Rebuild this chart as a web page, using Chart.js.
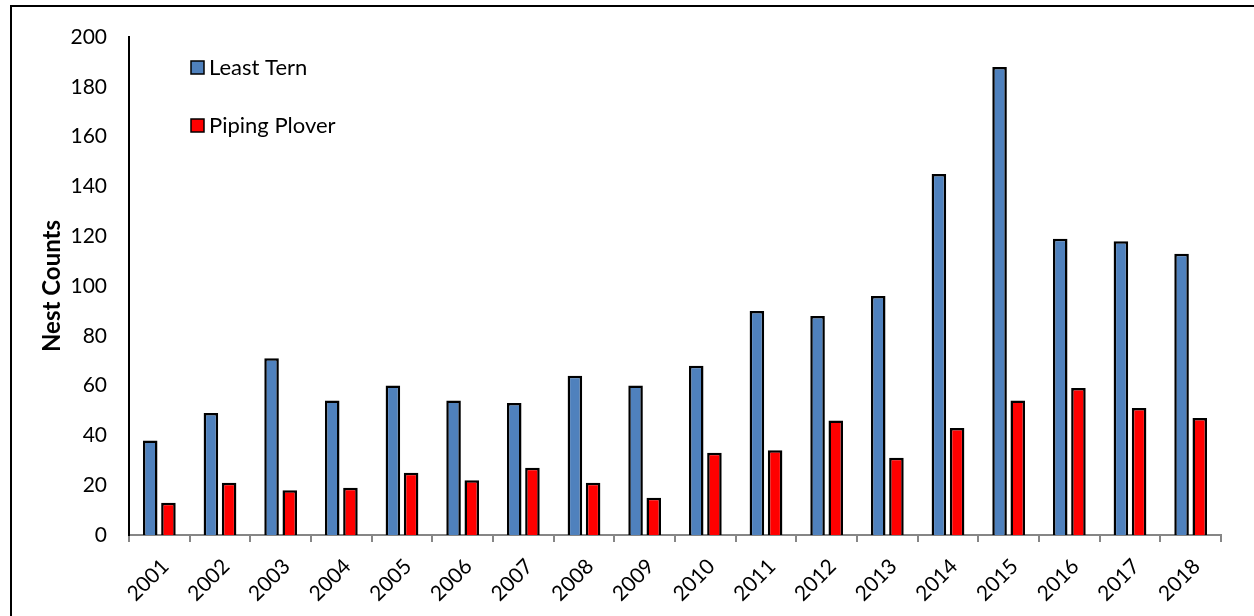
<!DOCTYPE html>
<html>
<head>
<meta charset="utf-8">
<script src="https://cdn.jsdelivr.net/npm/chart.js@4"></script>
<style>
html,body{margin:0;padding:0;background:#fff;}
#wrap{position:absolute;left:0;top:0;width:1254px;height:616px;}
#frame{position:absolute;left:10px;top:5px;width:1260px;height:640px;border-left:2px solid #000;border-top:2px solid #000;pointer-events:none;}
</style>
</head>
<body>
<div id="wrap"><canvas id="c" width="1254" height="616"></canvas></div>
<div id="frame"></div>
<script>
const years = ['2001','2002','2003','2004','2005','2006','2007','2008','2009','2010','2011','2012','2013','2014','2015','2016','2017','2018'];
const leastTern = [38,49,71,54,60,54,53,64,60,68,90,88,96,145,188,119,118,113];
const pipingPlover = [13,21,18,19,25,22,27,21,15,33,34,46,31,43,54,59,51,47];
const yTicks = [0,20,40,60,80,100,120,140,160,180,200];
const seriesNames = ['Least Tern','Piping Plover'];
const seriesColors = ['#4F81BD','#FF0000'];

const FONT = 'Lato, "Open Sans", sans-serif';

const insideLegend = {
  id:'insideLegend',
  afterDraw(chart){
    const ctx = chart.ctx, a = chart.chartArea;
    ctx.save();
    ctx.font = '22px ' + FONT;
    ctx.textBaseline = 'middle';
    chart.data.datasets.forEach((ds,i)=>{
      const x = a.left + 62, y = a.top + 30 + i*58;
      ctx.fillStyle = ds.backgroundColor;
      ctx.fillRect(x, y-6, 13, 13);
      ctx.lineWidth = 1.5;
      ctx.strokeStyle = '#000';
      ctx.strokeRect(x, y-6, 13, 13);
      ctx.fillStyle = '#000';
      ctx.fillText(ds.label, x+18, y+1);
    });
    ctx.restore();
  }
};

new Chart(document.getElementById('c'), {
  type:'bar',
  data:{
    labels: years,
    datasets:[
      {label:seriesNames[0], data:leastTern, backgroundColor:seriesColors[0], borderColor:'#000', borderWidth:2.5, borderSkipped:'bottom'},
      {label:seriesNames[1], data:pipingPlover, backgroundColor:seriesColors[1], borderColor:'#000', borderWidth:2.5, borderSkipped:'bottom'}
    ]
  },
  options:{
    responsive:false,
    animation:false,
    devicePixelRatio:1,
    layout:{padding:{left:38,right:33,top:37,bottom:0}},
    datasets:{bar:{categoryPercentage:0.6, barPercentage:0.8}},
    plugins:{legend:{display:false}, tooltip:{enabled:false}},
    scales:{
      x:{
        offset:true,
        grid:{offset:true, drawOnChartArea:false, drawTicks:true, tickLength:7, color:'#868686', lineWidth:2},
        border:{display:true, color:'#868686', width:2},
        ticks:{color:'#000', font:{family:FONT, size:21}, maxRotation:45, minRotation:45, padding:12, labelOffset:6, autoSkip:false},
        afterFit(s){ s.height = 81; }
      },
      y:{
        min:0, max:200,
        afterBuildTicks(s){ s.ticks = yTicks.map(v=>({value:v})); },
        grid:{display:false, drawTicks:false},
        border:{display:true, color:'#000', width:2},
        ticks:{color:'#000', font:{family:FONT, size:21}, padding:22},
        title:{display:true, text:'Nest Counts', color:'#000', font:{family:FONT, size:24, weight:'bold'}, padding:{top:0,bottom:4}},
        afterFit(s){ s.width = 91; }
      }
    }
  },
  plugins:[insideLegend]
});
</script>
</body>
</html>
